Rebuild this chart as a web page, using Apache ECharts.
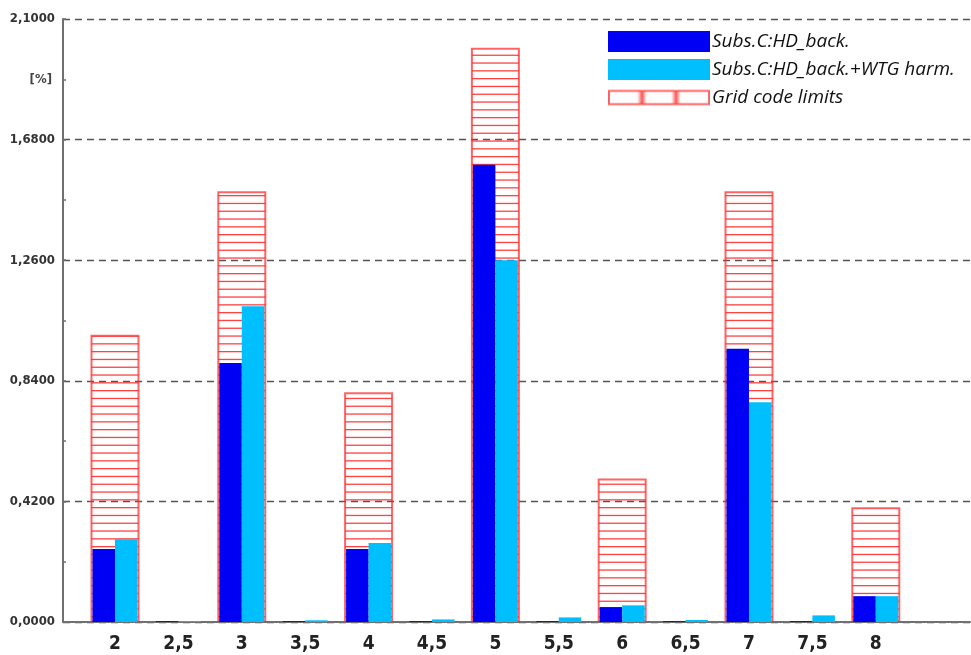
<!DOCTYPE html>
<html>
<head>
<meta charset="utf-8">
<script src="https://cdn.jsdelivr.net/npm/echarts@6/dist/echarts.min.js"></script>
<style>
  html, body { margin: 0; padding: 0; background: #ffffff; }
  #chart { width: 971px; height: 655px; }
</style>
</head>
<body>
<div id="chart"></div>
<script>
// Harmonic orders on the x axis (integer and interharmonic positions)
const harmonicOrders = [2, 2.5, 3, 3.5, 4, 4.5, 5, 5.5, 6, 6.5, 7, 7.5, 8];
const harmonicLabels = ['2', '2,5', '3', '3,5', '4', '4,5', '5', '5,5', '6', '6,5', '7', '7,5', '8'];

// Harmonic distortion levels in %
const backgroundLevels = [0.254, 0.003, 0.902, 0.003, 0.254, 0.003, 1.592, 0.003, 0.052, 0.003, 0.952, 0.003, 0.090];
const withWtgLevels    = [0.288, 0.003, 1.100, 0.006, 0.275, 0.009, 1.260, 0.016, 0.058, 0.007, 0.765, 0.023, 0.090];

// Grid code limits, only defined for integer harmonics
const limitOrders = [2, 3, 4, 5, 6, 7, 8];
const gridCodeLimits = [1.0, 1.5, 0.8, 2.0, 0.5, 1.5, 0.4];

// Y axis range and tick step
const yMin = 0, yMax = 2.1, yStep = 0.42;
const unitLabel = '[%]';

const seriesNames = ['Subs.C:HD_back.', 'Subs.C:HD_back.+WTG harm.', 'Grid code limits'];

const fmt = v => v.toFixed(4).replace('.', ',');
const labelFont = "'DejaVu Sans Condensed', 'Liberation Sans Narrow', sans-serif";

// Horizontal hatch used for the limit bars
function makeHatch() {
  const c = document.createElement('canvas');
  c.width = 8; c.height = 39;
  const g = c.getContext('2d');
  g.fillStyle = 'rgba(255,20,20,0.8)';
  for (let k = 0; k < 5; k++) g.fillRect(0, k * 7.8, 8, 1.3);
  return c;
}

// Legend swatch for the limit series
function makeLimitIcon() {
  const c = document.createElement('canvas');
  c.width = 108; c.height = 21;
  const g = c.getContext('2d');
  g.fillStyle = '#ffffff';
  g.fillRect(0, 2.5, 108, 16);
  g.strokeStyle = 'rgba(255,40,40,0.75)';
  g.lineWidth = 2;
  g.strokeRect(1, 3.5, 106, 14);
  [36, 72].forEach(x => {
    const grd = g.createLinearGradient(x - 5, 0, x + 5, 0);
    grd.addColorStop(0, 'rgba(255,60,60,0)');
    grd.addColorStop(0.5, 'rgba(255,40,40,0.8)');
    grd.addColorStop(1, 'rgba(255,60,60,0)');
    g.fillStyle = grd;
    g.fillRect(x - 5, 4, 10, 13);
  });
  return c.toDataURL();
}

const xMin = 1.59, xMax = 8.743;

const chart = echarts.init(document.getElementById('chart'), null, { renderer: 'canvas' });

const option = {
  animation: false,
  backgroundColor: '#ffffff',
  grid: { left: 63, right: 1, top: 19, bottom: 33, containLabel: false },
  legend: {
    orient: 'vertical',
    left: 603,
    top: 26,
    itemWidth: 102,
    itemHeight: 21,
    itemGap: 7,
    selectedMode: false,
    textStyle: {
      fontFamily: "'Open Sans', sans-serif",
      fontStyle: 'italic',
      fontSize: 19,
      color: '#111111',
      padding: [0, 0, 0, -3]
    },
    data: [
      { name: seriesNames[0], icon: 'rect' },
      { name: seriesNames[1], icon: 'rect' },
      { name: seriesNames[2], icon: 'image://' + makeLimitIcon() }
    ]
  },
  xAxis: [
    {
      type: 'value',
      min: xMin,
      max: xMax,
      axisLine: { show: true, lineStyle: { color: '#707070', width: 2 } },
      axisTick: { show: false },
      splitLine: { show: false },
      axisLabel: {
        customValues: harmonicOrders,
        formatter: v => harmonicLabels[harmonicOrders.indexOf(Math.round(v * 2) / 2)] || '',
        margin: 13,
        fontFamily: labelFont,
        fontWeight: 'bold',
        fontSize: 19,
        color: '#222222'
      }
    },
    {
      type: 'value',
      min: xMin,
      max: xMax,
      show: false
    }
  ],
  yAxis: [
    {
      type: 'value',
      min: yMin,
      max: yMax,
      interval: yStep,
      axisLine: { show: true, lineStyle: { color: '#707070', width: 2 } },
      axisTick: { show: false },
      splitLine: { show: true, lineStyle: { color: '#555555', type: [7, 5], width: 1.4 } },
      axisLabel: {
        formatter: fmt,
        margin: 8,
        fontFamily: labelFont,
        fontWeight: 'bold',
        fontSize: 13,
        color: '#333333'
      }
    },
    {
      // half-step ticks and unit label
      type: 'value',
      position: 'left',
      min: yMin,
      max: yMax,
      interval: yStep / 2,
      axisLine: { show: false },
      axisTick: { show: true, inside: true, length: 3, lineStyle: { color: '#707070', width: 1.5 } },
      splitLine: { show: false },
      axisLabel: {
        formatter: v => (Math.abs(v - (yMax - yStep / 2)) < 1e-6 ? unitLabel : ''),
        margin: 11,
        fontFamily: labelFont,
        fontWeight: 'bold',
        fontSize: 13,
        color: '#444444'
      }
    }
  ],
  series: [
    {
      name: seriesNames[2],
      type: 'bar',
      xAxisIndex: 1,
      yAxisIndex: 0,
      barWidth: 49,
      z: 1,
      itemStyle: {
        color: { image: makeHatch(), repeat: 'repeat' },
        borderColor: 'rgba(255,40,40,0.72)',
        borderWidth: 2
      },
      data: limitOrders.map((x, i) => [x, gridCodeLimits[i]])
    },
    {
      name: seriesNames[0],
      type: 'bar',
      xAxisIndex: 0,
      yAxisIndex: 0,
      barWidth: 22.5,
      barGap: '0%',
      z: 3,
      itemStyle: { color: '#0000f5' },
      data: harmonicOrders.map((x, i) => [x, backgroundLevels[i]])
    },
    {
      name: seriesNames[1],
      type: 'bar',
      xAxisIndex: 0,
      yAxisIndex: 0,
      barWidth: 22.5,
      barGap: '0%',
      z: 3,
      itemStyle: { color: '#00bfff' },
      data: harmonicOrders.map((x, i) => [x, withWtgLevels[i]])
    }
  ]
};

chart.setOption(option);
</script>
</body>
</html>
